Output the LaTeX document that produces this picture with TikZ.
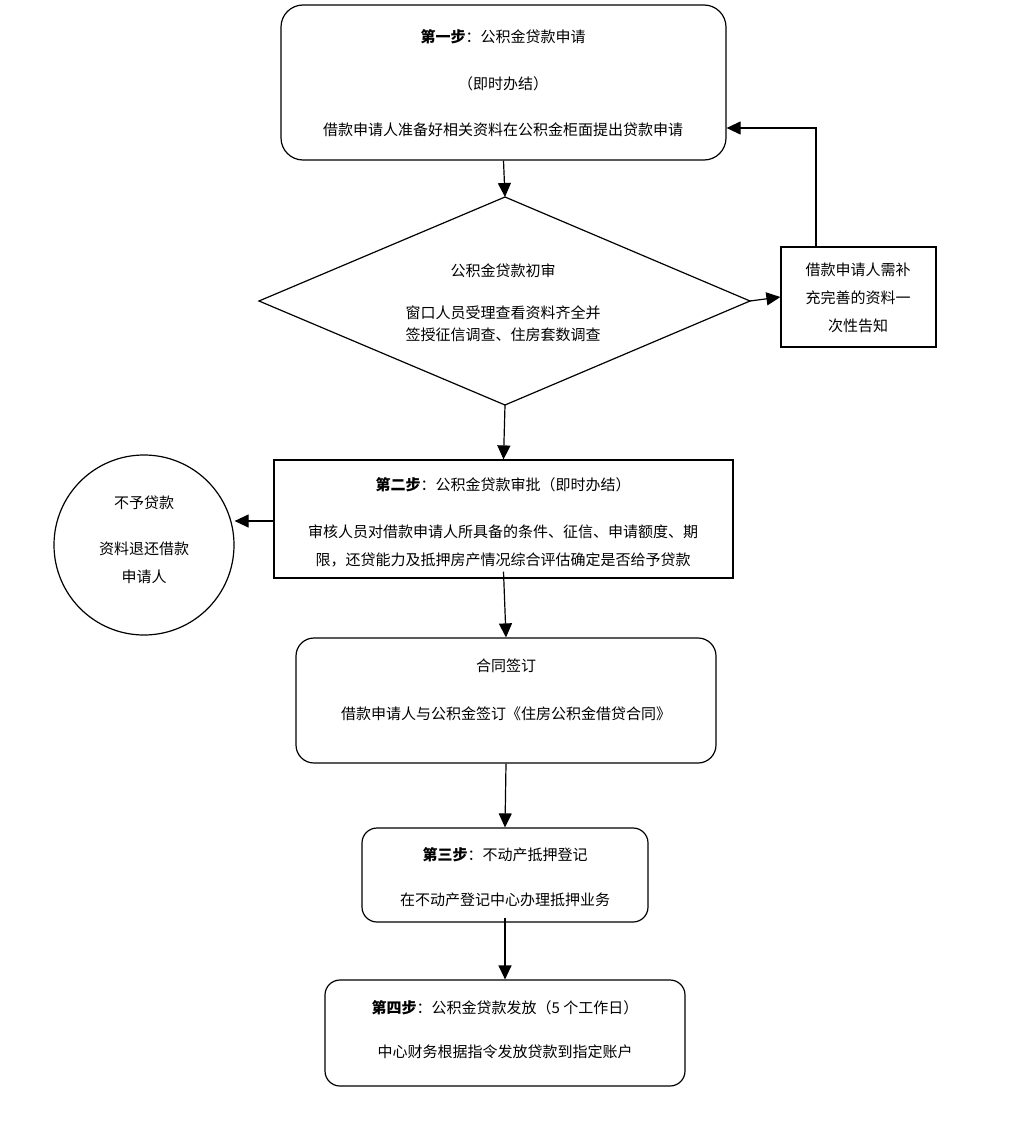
\documentclass[tikz,border=0pt]{standalone}
\usepackage{fontspec}
\setmainfont{Noto Sans CJK SC}
\usetikzlibrary{arrows.meta}
\tikzset{
  box/.style = {draw, line width=1.2pt, inner sep=0pt},
  rbox/.style = {box, rounded corners=22pt},
  txt/.style = {inner sep=0pt, font=\fontsize{15}{18}\selectfont},
  flow/.style = {line width=1.2pt, -{Triangle[length=14pt,width=13pt]}}
}
\begin{document}
\begin{tikzpicture}[x=1pt, y=-1pt]
  \useasboundingbox (0,0) rectangle (1016,1145);
  % boxes
  \node[rbox, minimum width=445pt, minimum height=155pt] (apply) at (503.5,82.5) {};
  \coordinate (dtop) at (505,197);
  \coordinate (dright) at (750,301);
  \coordinate (dbottom) at (505,405);
  \coordinate (dleft) at (259,301);
  \draw[line width=1.2pt] (dtop) -- (dright) -- (dbottom) -- (dleft) -- cycle;
  \node[box, minimum width=155pt, minimum height=100pt] (notice) at (858.5,297) {};
  \node[box, minimum width=459pt, minimum height=118pt] (approve) at (503.5,519) {};
  \node[box, circle, minimum size=180pt] (reject) at (144,545) {};
  \node[rbox, rounded corners=18pt, minimum width=420pt, minimum height=125pt] (contract) at (506,700.5) {};
  \node[rbox, rounded corners=15pt, minimum width=286pt, minimum height=94pt] (mortgage) at (505,875) {};
  \node[rbox, rounded corners=15pt, minimum width=360pt, minimum height=106pt] (payout) at (505,1033) {};
  % texts
  \node[txt] at (503,37) {\textbf{第一步}：公积金贷款申请};
  \node[txt] at (503,84) {（即时办结）};
  \node[txt] at (503,130) {借款申请人准备好相关资料在公积金柜面提出贷款申请};
  \node[txt] at (503,271) {公积金贷款初审};
  \node[txt] at (503,313) {窗口人员受理查看资料齐全并};
  \node[txt] at (503,335) {签授征信调查、住房套数调查};
  \node[txt] at (858,270) {借款申请人需补};
  \node[txt] at (858,298) {充完善的资料一};
  \node[txt] at (858,326) {次性告知};
  \node[txt] at (503,485) {\textbf{第二步}：公积金贷款审批（即时办结）};
  \node[txt] at (503,532) {审核人员对借款申请人所具备的条件、征信、申请额度、期};
  \node[txt] at (503,560) {限，还贷能力及抵押房产情况综合评估确定是否给予贷款};
  \node[txt] at (144,503) {不予贷款};
  \node[txt] at (144,549) {资料退还借款};
  \node[txt] at (144,577) {申请人};
  \node[txt] at (506,666) {合同签订};
  \node[txt] at (506,714) {借款申请人与公积金签订《住房公积金借贷合同》};
  \node[txt] at (505,855) {\textbf{第三步}：不动产抵押登记};
  \node[txt] at (505,900) {在不动产登记中心办理抵押业务};
  \node[txt] at (505,1008) {\textbf{第四步}：公积金贷款发放（5 个工作日）};
  \node[txt] at (505,1052) {中心财务根据指令发放贷款到指定账户};
  % connectors
  \draw[flow] (apply.south) -- (dtop);
  \draw[flow] (dright) -- (notice.west);
  \draw[flow] (notice.north -| 816,0) -- (816,128) -- (apply.east |- 0,128);
  \draw[flow] (dbottom) -- (approve.north);
  \draw[flow] (approve.west |- 0,521) -- (reject.east |- 0,521);
  \draw[flow] ([yshift=7pt]approve.south) -- (contract.north);
  \draw[flow] (contract.south) -- (mortgage.north);
  \draw[flow] ([yshift=5pt]mortgage.south) -- (payout.north);
\end{tikzpicture}
\end{document}
